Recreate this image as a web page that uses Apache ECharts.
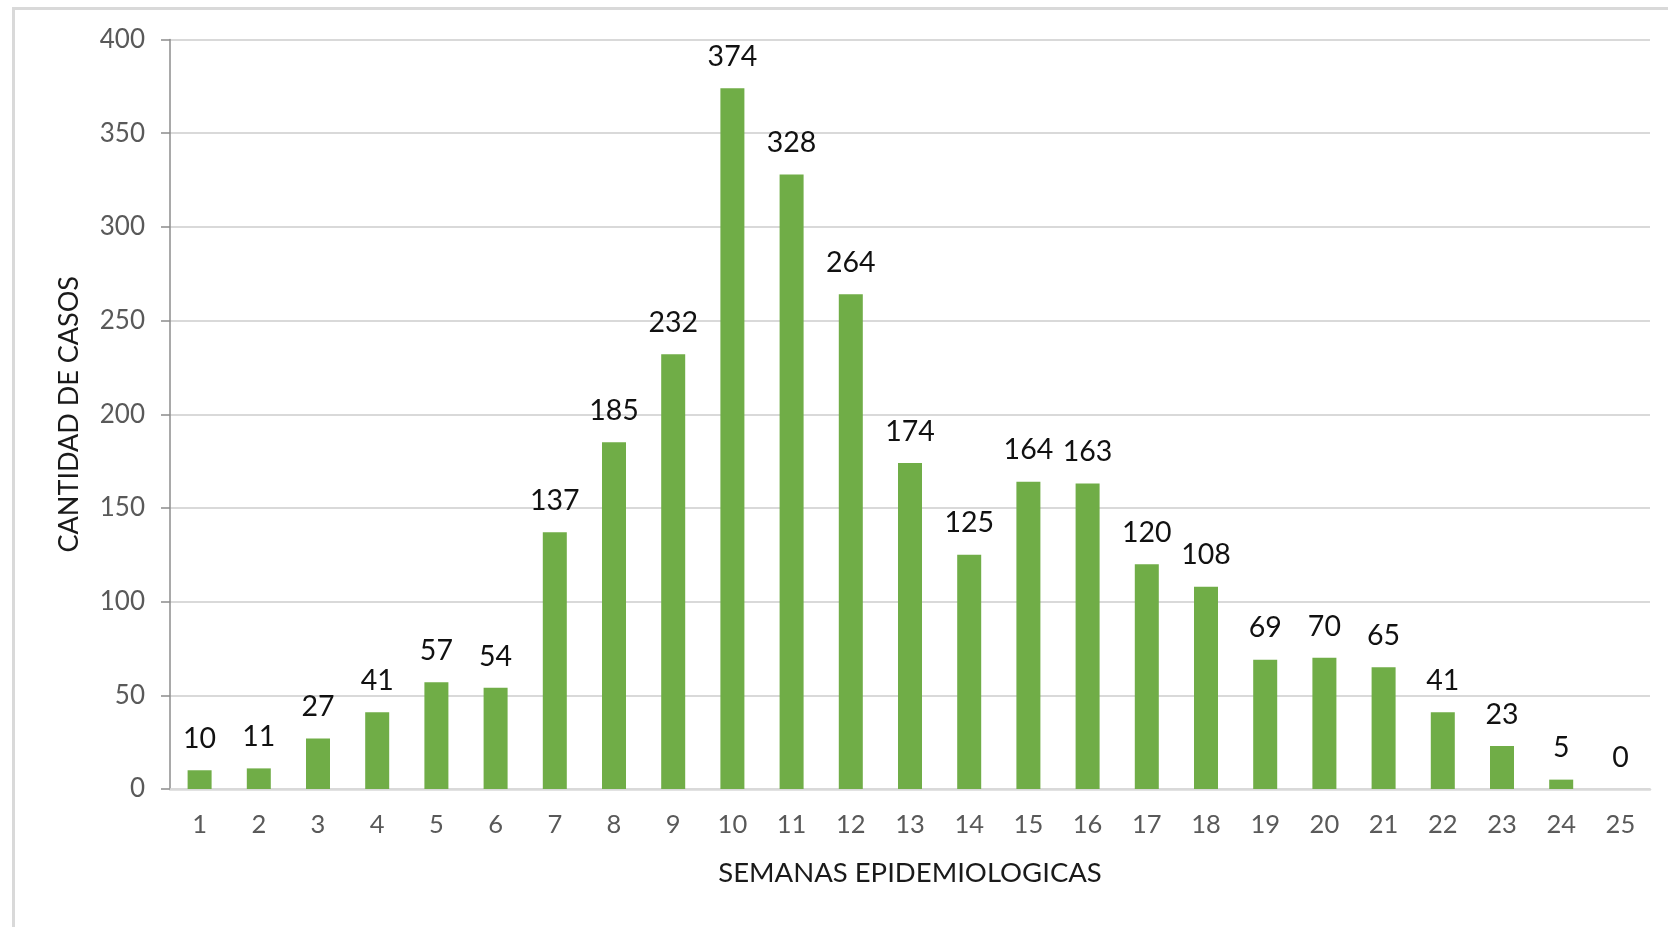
<!DOCTYPE html>
<html>
<head>
<meta charset="utf-8">
<script src="https://cdn.jsdelivr.net/npm/echarts@6/dist/echarts.min.js"></script>
<style>
  html, body { margin: 0; padding: 0; background: #fff; }
  #chart { width: 1668px; height: 927px; }
</style>
</head>
<body>
<div id="chart"></div>
<script>
// semanas epidemiologicas
const semanas = ['1','2','3','4','5','6','7','8','9','10','11','12','13','14','15','16','17','18','19','20','21','22','23','24','25'];
// cantidad de casos por semana
const casos = [10, 11, 27, 41, 57, 54, 137, 185, 232, 374, 328, 264, 174, 125, 164, 163, 120, 108, 69, 70, 65, 41, 23, 5, 0];
const yTicks = { min: 0, max: 400, step: 50 };

const fuente = 'Lato, "Open Sans", sans-serif';
const chart = echarts.init(document.getElementById('chart'));

chart.setOption({
  animation: false,
  backgroundColor: '#fff',
  textStyle: { fontFamily: fuente },
  graphic: [{
    type: 'rect',
    left: 11, top: 6,
    shape: { width: 1800, height: 1100 },
    style: { fill: 'none', stroke: '#d9d9d9', lineWidth: 3 },
    silent: true
  }],
  grid: { left: 170, right: 18, top: 39.5, bottom: 138 },
  xAxis: {
    type: 'category',
    data: semanas,
    name: 'SEMANAS EPIDEMIOLOGICAS',
    nameLocation: 'middle',
    nameGap: 70,
    nameTextStyle: { fontSize: 27.5, color: '#1a1a1a', fontFamily: fuente },
    axisLine: { lineStyle: { color: '#d9d9d9', width: 2.5 } },
    axisTick: { show: false },
    axisLabel: { fontSize: 25.5, color: '#595959', margin: 23, fontFamily: fuente }
  },
  yAxis: {
    type: 'value',
    min: yTicks.min, max: yTicks.max, interval: yTicks.step,
    name: 'CANTIDAD DE CASOS',
    nameLocation: 'middle',
    nameGap: 87,
    nameRotate: 90,
    nameTextStyle: { fontSize: 27, color: '#1a1a1a', fontFamily: fuente },
    axisLine: { show: true, lineStyle: { color: '#8c8c8c', width: 1.5 } },
    axisTick: { show: true, length: 9, lineStyle: { color: '#8c8c8c', width: 1.5 } },
    axisLabel: { fontSize: 26, color: '#595959', margin: 25, fontFamily: fuente },
    splitLine: { lineStyle: { color: '#d9d9d9', width: 2 } }
  },
  series: [{
    type: 'bar',
    data: casos,
    barWidth: 24,
    itemStyle: { color: '#70ad47' },
    label: {
      show: true,
      position: 'top',
      distance: 17,
      fontSize: 28.5,
      color: '#111',
      fontFamily: fuente
    }
  }]
});
</script>
</body>
</html>
